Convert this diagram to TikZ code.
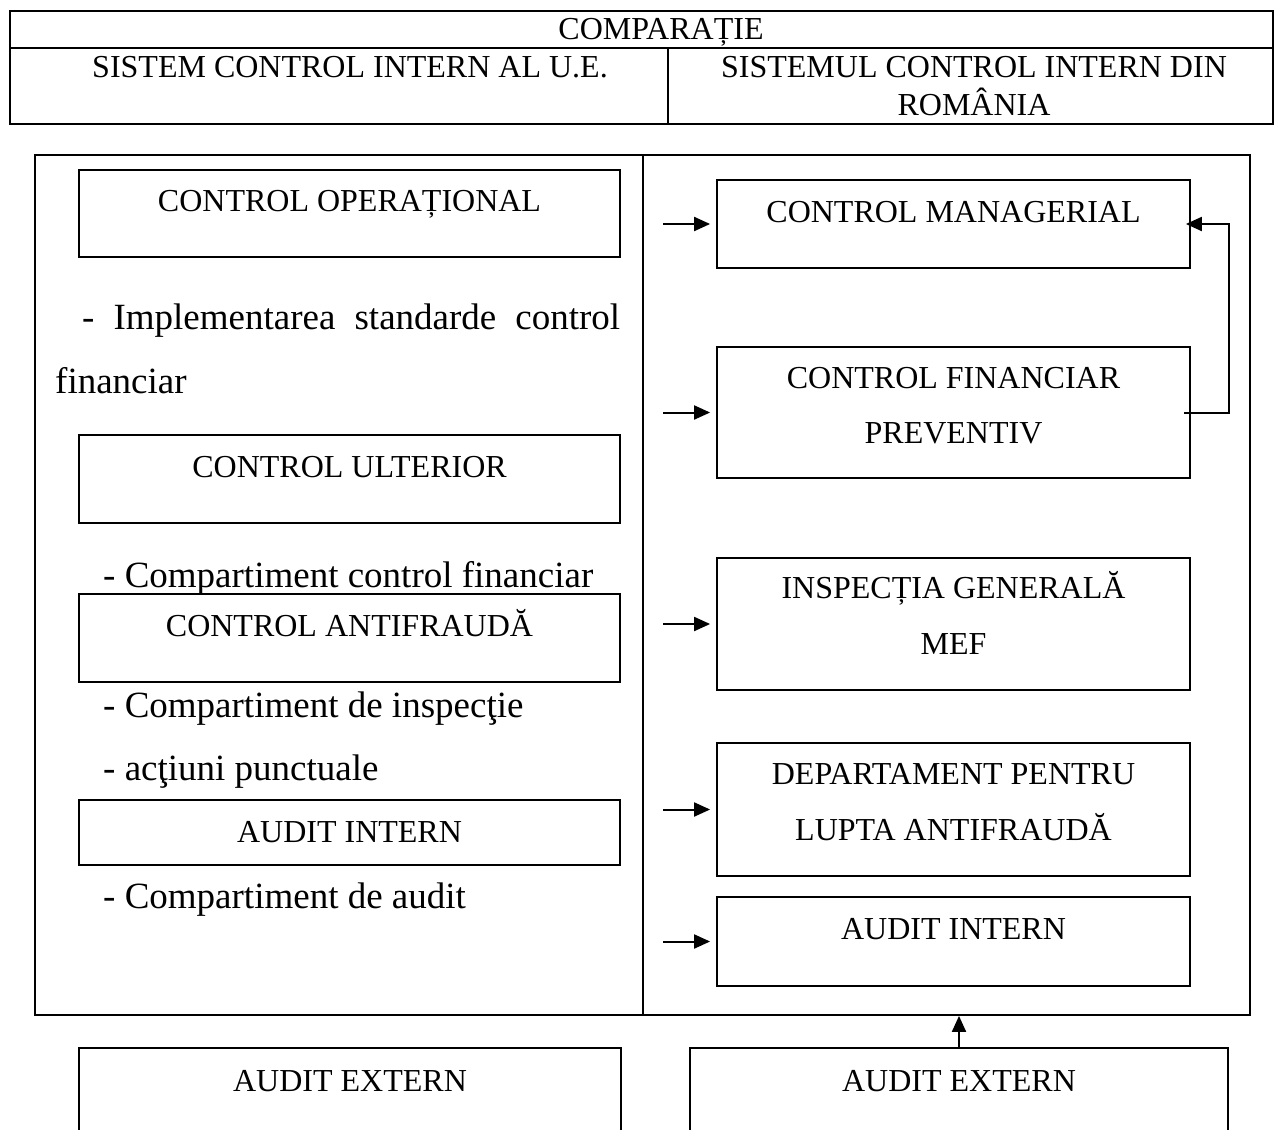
\documentclass[tikz,border=0pt]{standalone}
\usepackage{fontspec}
\setmainfont{Liberation Serif}
\usetikzlibrary{arrows.meta}
\begin{document}
\begin{tikzpicture}[x=1pt,y=-1pt,
  box/.style={draw,line width=1.8pt,rectangle,inner sep=0pt},
  captxt/.style={anchor=base,inner sep=0pt,font=\fontsize{32}{38}\selectfont},
  body/.style={anchor=base west,inner sep=0pt,font=\fontsize{37}{44}\selectfont},
  arr/.style={line width=2pt,-{Triangle[length=16pt,width=14pt]}}]
\clip (0,0) rectangle (1275,1130);
\fill[white] (0,0) rectangle (1275,1130);

% header table
\node[box,line width=2.2pt,minimum width=1263pt,minimum height=113pt] (head) at (641.5,67.5) {};
\coordinate (hl) at (10,48);
\coordinate (hr) at (1273,48);
\coordinate (vt) at (668,48);
\coordinate (vb) at (668,124);
\draw[line width=1.8pt] (hl) -- (hr);
\draw[line width=1.8pt] (vt) -- (vb);
\node[captxt] (tcmp) at (661,39) {COMPARAȚIE};
\node[captxt] (tue) at (350,77) {SISTEM CONTROL INTERN AL U.E.};
\node[captxt] (tro1) at (974,77) {SISTEMUL CONTROL INTERN DIN};
\node[captxt] (tro2) at (974,115) {ROMÂNIA};

% main frame with its two columns
\node[box,minimum width=1215pt,minimum height=860pt] (frame) at (642.5,585) {};
\coordinate (ft) at (643,155);
\coordinate (fb) at (643,1015);
\draw[line width=1.8pt] (ft) -- (fb);

% left column: EU system
\node[box,minimum width=541pt,minimum height=87pt] (op) at (349.5,213.5) {};
\node[captxt] (top) at (349.5,211) {CONTROL OPERAȚIONAL};
\node[body] (t1) at (82,329) {\makebox[538pt][s]{- Implementarea standarde control}};
\node[body] (t2) at (55,393) {financiar};
\node[box,minimum width=541pt,minimum height=88pt] (cu) at (349.5,479) {};
\node[captxt] (tcu) at (349.5,477) {CONTROL ULTERIOR};
\node[body] (t3) at (103,587) {- Compartiment control financiar};
\node[box,minimum width=541pt,minimum height=88pt] (ca) at (349.5,638) {};
\node[captxt] (tca) at (349.5,636) {CONTROL ANTIFRAUDĂ};
\node[body] (t4) at (103,717) {- Compartiment de inspecţie};
\node[body] (t5) at (103,780) {- acţiuni punctuale};
\node[box,minimum width=541pt,minimum height=65pt] (ail) at (349.5,832.5) {};
\node[captxt] (tail) at (349.5,842) {AUDIT INTERN};
\node[body] (t6) at (103,908) {- Compartiment de audit};

% right column: Romanian system
\node[box,minimum width=473pt,minimum height=88pt] (cm) at (953.5,224) {};
\node[captxt] (tcm) at (953.5,222) {CONTROL MANAGERIAL};
\node[box,minimum width=473pt,minimum height=131pt] (cfp) at (953.5,412.5) {};
\node[captxt] (tcfp1) at (953.5,388) {CONTROL FINANCIAR};
\node[captxt] (tcfp2) at (953.5,443) {PREVENTIV};
\node[box,minimum width=473pt,minimum height=132pt] (ig) at (953.5,624) {};
\node[captxt] (tig1) at (953.5,598) {INSPECȚIA GENERALĂ};
\node[captxt] (tig2) at (953.5,654) {MEF};
\node[box,minimum width=473pt,minimum height=133pt] (dep) at (953.5,809.5) {};
\node[captxt] (tdep1) at (953.5,784) {DEPARTAMENT PENTRU};
\node[captxt] (tdep2) at (953.5,840) {LUPTA ANTIFRAUDĂ};
\node[box,minimum width=473pt,minimum height=89pt] (air) at (953.5,941.5) {};
\node[captxt] (tair) at (953.5,939) {AUDIT INTERN};

% entry arrows into the right column
\foreach \b in {cm,cfp,ig,dep,air}
  \draw[arr] ([xshift=-53pt]\b.west) -- ([xshift=-6pt]\b.west);

% preventive control feeds managerial control
\draw[arr] ([xshift=-7pt]cfp.east) -- ++(45,0) |- ([xshift=-5pt]cm.east);

% external audit boxes
\node[box,line width=2.4pt,minimum width=542pt,minimum height=100pt] (ael) at (350,1098) {};
\node[captxt] (tael) at (350,1091) {AUDIT EXTERN};
\node[box,line width=2.4pt,minimum width=538pt,minimum height=100pt] (aer) at (959,1098) {};
\node[captxt] (taer) at (959,1091) {AUDIT EXTERN};
\draw[arr] (aer.north) -- (aer.north |- frame.south);
\end{tikzpicture}
\end{document}
